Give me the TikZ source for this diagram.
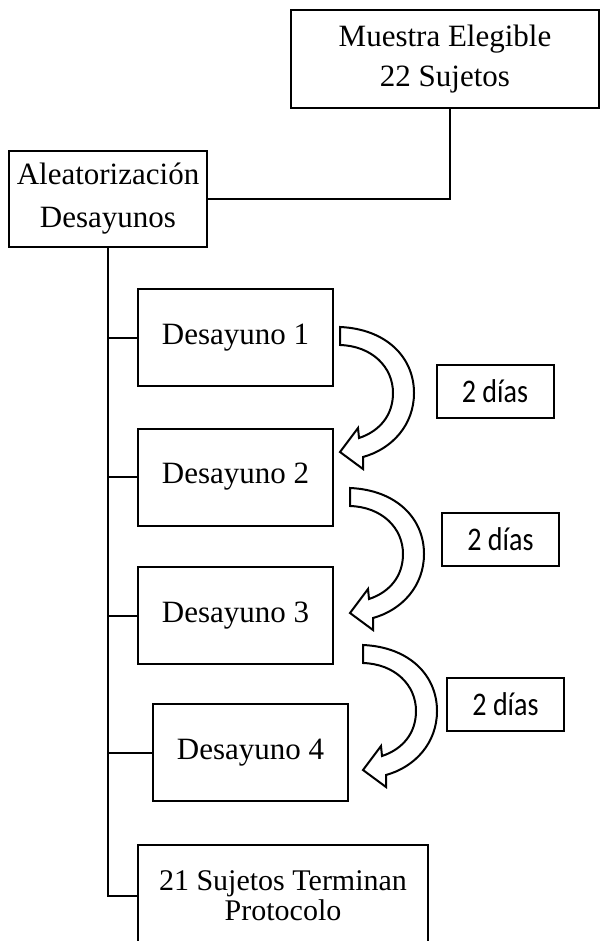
\documentclass[tikz,border=0pt]{standalone}
\usepackage{fontspec}
\setmainfont{Liberation Serif}
\newfontfamily\diasfont[FakeStretch=0.85]{Carlito}
\tikzset{
	caja/.style={draw, line width=1pt, inner sep=0pt, align=center,
		font=\fontsize{15.5}{20}\selectfont},
	desayuno/.style={caja, minimum width=97.5pt, minimum height=48.5pt},
	dias/.style={draw, line width=1pt, inner sep=0pt, minimum width=58.5pt,
		minimum height=26.5pt, font=\diasfont\fontsize{16.5}{19}\selectfont},
	flechadia/.pic={
		\draw[line width=1pt, fill=white, line join=miter]
		(0,0) .. controls (46,2) and (74,30) .. (74,66)
		.. controls (74,98) and (52,122) .. (23,130)
		-- (23,142) -- (0,125) -- (18,101) -- (19,111)
		.. controls (40,104) and (53,88) .. (53,66)
		.. controls (53,40) and (32,19) .. (0,18) -- cycle;
	}
}
\begin{document}
\begin{tikzpicture}[x=0.5pt, y=-0.5pt]
	\useasboundingbox (0,0) rectangle (601,941);
	
	\node[caja, minimum width=154pt, minimum height=49pt] (m) at (445,59) {Muestra Elegible\\22 Sujetos};
	\node[caja, minimum width=99pt, minimum height=48pt, font=\fontsize{15.5}{21.5}\selectfont] (a) at (108,199) {Aleatorización\\Desayunos};
	\node[desayuno] (d1) at (235.5,337.5) {Desayuno 1};
	\node[desayuno] (d2) at (235.5,477) {Desayuno 2};
	\node[desayuno] (d3) at (235.5,615.5) {Desayuno 3};
	\node[desayuno] (d4) at (250.5,752.5) {Desayuno 4};
	\node[caja, minimum width=145pt, minimum height=51pt, font=\fontsize{15}{15}\selectfont] (fin) at (283,896) {21 Sujetos Terminan\\Protocolo};
	
	\node[dias] (t1) at (495,391.5) {2 días};
	\node[dias] (t2) at (500.5,539.5) {2 días};
	\node[dias] (t3) at (505.5,704) {2 días};
	
	\coordinate (mb) at (450,108);
	\draw[line width=1pt] (mb) |- (a.east);
	\draw[line width=1pt] (a.south) -- (a.south |- fin.west) -- (fin.west);
	\foreach \n in {d1,d2,d3,d4}
	\draw[line width=1pt] (a.south |- \n.west) -- (\n.west);
	
	\pic at (340,327) {flechadia};
	\pic at (350,488) {flechadia};
	\pic at (363,645) {flechadia};
\end{tikzpicture}
\end{document}
